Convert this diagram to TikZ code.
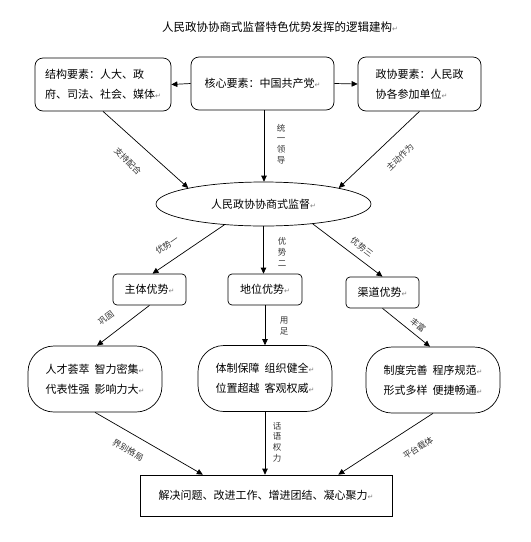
\documentclass[tikz,border=0pt]{standalone}
\usepackage{fontspec}
\setmainfont{Noto Sans CJK SC}
\newfontfamily\dejavu{DejaVu Sans}
\usetikzlibrary{arrows.meta,shapes.geometric,calc}
\newcommand\retm{{\dejavu\fontsize{7}{7}\selectfont\textcolor{gray}{↵}}}
\tikzset{
  base/.style={draw=black,line width=0.7pt,font=\fontsize{11}{20}\selectfont,inner sep=0pt},
  topbox/.style={base,rounded corners=8pt},
  midbox/.style={base,rounded corners=4pt,minimum width=73pt,minimum height=31pt},
  lowbox/.style={base,rounded corners=26pt,minimum width=134pt,minimum height=66pt,align=left},
  conn/.style={line width=0.7pt,-{Triangle[length=6pt,width=5.5pt]}},
  lbl/.style={font=\fontsize{8.5}{10.7}\selectfont,text=black!80,inner sep=0pt,align=center},
}
\begin{document}
\begin{tikzpicture}[x=1pt,y=-1pt]
\useasboundingbox (0,0) rectangle (531,542);
\node[font=\fontsize{11.5}{14}\selectfont] (title) at (280,27) {人民政协协商式监督特色优势发挥的逻辑建构\retm};
% top row
\node[topbox,minimum width=136pt,minimum height=53pt,align=left] (b1) at (103,84.5)
  {结构要素：人大、政\\府、司法、社会、媒体\retm};
\node[topbox,minimum width=143pt,minimum height=53pt] (b2) at (262.5,83.5) {核心要素：中国共产党\retm};
\node[topbox,minimum width=123pt,minimum height=54pt,align=left] (b3) at (419.5,84)
  {政协要素：人民政\\协各参加单位\retm\hspace*{14pt}};
\draw[conn] (b2.west) -- (b1.east);
\draw[conn] (b2.east) -- (b3.west);
% ellipse
\node[base,ellipse,minimum width=215pt,minimum height=44pt] (ell) at (263.5,204) {人民政协协商式监督\retm};
\draw[conn] (b1.south) -- (ell.168);
\draw[conn] ($(b2.south)+(1.5,0)$) -- (ell.north -| {$(b2.south)+(1.5,0)$});
\draw[conn] (b3.south) -- (ell.12);
\node[lbl,rotate=-45] (l1) at (128,161) {支持配合};
\node[lbl] (l2) at (281,144) {统\\一\\领\\导};
\node[lbl,rotate=44] (l3) at (400,157) {主动作为};
% middle row
\node[midbox] (zt) at (149.5,289.5) {主体优势\retm};
\node[midbox,minimum width=74pt] (dw) at (265,289.5) {地位优势\retm};
\node[midbox] (qd) at (382.5,292.5) {渠道优势\retm};
\draw[conn] (ell.208) -- ($(zt.north)+(3,0)$);
\draw[conn] (ell.south) -- (ell.south |- dw.north);
\draw[conn] (ell.338) -- (qd.north);
\node[lbl,rotate=35] (l4) at (167,245) {优势一};
\node[lbl] (l5) at (282,252) {优\\势\\二};
\node[lbl,rotate=-37] (l6) at (362,247) {优势三};
% lower row
\node[lowbox] (la) at (95,379) {人才荟萃\ \ 智力密集\retm\\代表性强\ \ 影响力大\retm};
\node[lowbox] (lb) at (265,378.5) {体制保障\ \ 组织健全\retm\\位置超越\ \ 客观权威\retm};
\node[lowbox] (lc) at (433,380) {制度完善\ \ 程序规范\retm\\形式多样\ \ 便捷畅通\retm};
\draw[conn] (zt.south) -- ($(la.north)+(2,0)$);
\draw[conn] (dw.south) -- (dw.south |- lb.north);
\draw[conn] (qd.south) -- ($(lc.north)+(-3,0)$);
\node[lbl,rotate=36] (l7) at (106,318) {巩固};
\node[lbl] (l8) at (284,326) {用\\足};
\node[lbl,rotate=-38] (l9) at (418,325) {丰富};
% bottom
\node[base,minimum width=252pt,minimum height=41pt] (bt) at (266,495.5) {解决问题、改进工作、增进团结、凝心聚力\retm};
\draw[conn] (la.south) -- ($(bt.north west)!0.25!(bt.north east)$);
\draw[conn] (lb.south) -- (lb.south |- bt.north);
\draw[conn] (lc.south) -- ($(bt.north west)!0.786!(bt.north east)$);
\node[lbl,rotate=-30] (l10) at (128,450) {界别格局};
\node[lbl] (l11) at (277,442) {话\\语\\权\\力};
\node[lbl,rotate=33] (l12) at (418,448) {平台载体};
\end{tikzpicture}
\end{document}
